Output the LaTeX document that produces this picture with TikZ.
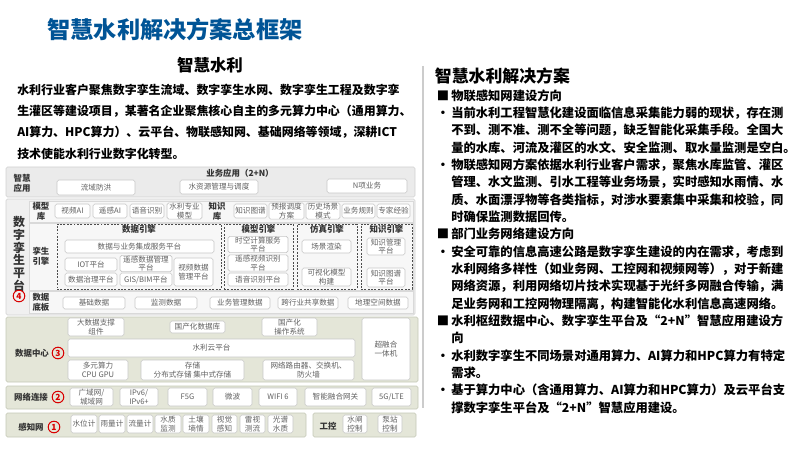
\documentclass[tikz,border=0pt]{standalone}
\usepackage{fontspec}
\setmainfont{Noto Sans CJK SC}
\usetikzlibrary{positioning}
\definecolor{titleblue}{RGB}{0,84,150}
\definecolor{rowgreen}{RGB}{228,230,216}
\definecolor{rowline}{RGB}{196,200,182}
\newcommand\lmark[1]{\makebox[0pt][r]{#1\hspace{1.5pt}}}

\begin{document}
\begin{tikzpicture}[x=0.25mm,y=-0.25mm,
      sz/.style 2 args={minimum width=#1*0.25mm,minimum height=#2*0.25mm},
      box/.style={draw=black!22,fill=white,rounded corners=1.2pt,inner sep=0.2pt,
                  align=center,text=black!62,font=\fontsize{5.4}{6.1}\selectfont},
      lbl/.style={align=center,text=black!80,inner sep=0pt,
                  font=\bfseries\fontsize{6}{7}\selectfont},
      eng/.style={draw=black!70,dash pattern=on 1.4pt off 1pt,line width=0.5pt,inner sep=0pt},
      num/.style={circle,draw=red!85!black,line width=0.7pt,text=red!85!black,inner sep=0pt,
                  minimum size=2.9mm,font=\bfseries\fontsize{6}{6}\selectfont},
      grayrow/.style={draw=black!18,fill=black!8,rounded corners=1pt},
      subrow/.style={draw=black!15,fill=black!3},
      greenrow/.style={draw=rowline,fill=rowgreen,rounded corners=1pt},
      para/.style={align=left,inner sep=0pt,anchor=north west}]
    \useasboundingbox (0,0) rectangle (800,450);
    \node[font=\bfseries\fontsize{16.5}{18}\selectfont,text=titleblue] (title) at (175,30) {智慧水利解决方案总框架};
    \node[font=\bfseries\fontsize{11.7}{13}\selectfont] (sub) at (210,65) {智慧水利};
    \node[para,font=\bfseries\fontsize{8.5}{15.2}\selectfont] (intro) at (17,83.5) {%
      水利行业客户聚焦数字孪生流域、数字孪生水网、数字孪生工程及数字孪\\
      生灌区等建设项目，某著名企业聚焦核心自主的多元算力中心（通用算力、\\
      AI算力、HPC算力）、云平台、物联感知网、基础网络等领域，深耕ICT\\
      技术使能水利行业数字化转型。};

    \draw[black!20,line width=1.5pt] (423,66) -- (423,408);
    \node[anchor=west,font=\bfseries\fontsize{12}{14}\selectfont] (soltitle) at (430,76) {智慧水利解决方案};
    \node[para,font=\bfseries\fontsize{8.75}{12.32}\selectfont] (sol) at (451,89.3) {%
      \lmark{■}物联感知网建设方向\\
      \lmark{・}当前水利工程智慧化建设面临信息采集能力弱的现状，存在测\\
      不到、测不准、测不全等问题，缺乏智能化采集手段。全国大\\
      量的水库、河流及灌区的水文、安全监测、取水量监测是空白。\\
      \lmark{・}物联感知网方案依据水利行业客户需求，聚焦水库监管、灌区\\
      管理、水文监测、引水工程等业务场景，实时感知水雨情、水\\
      质、水面漂浮物等各类指标，对涉水要素集中采集和校验，同\\
      时确保监测数据回传。\\
      \lmark{■}部门业务网络建设方向\\
      \lmark{・}安全可靠的信息高速公路是数字孪生建设的内在需求，考虑到\\
      水利网络多样性（如业务网、工控网和视频网等），对于新建\\
      网络资源，利用网络切片技术实现基于光纤多网融合传输，满\\
      足业务网和工控网物理隔离，构建智能化水利信息高速网络。\\
      \lmark{■}水利枢纽数据中心、数字孪生平台及“2+N”智慧应用建设方\\
      向\\
      \lmark{・}水利数字孪生不同场景对通用算力、AI算力和HPC算力有特定\\
      需求。\\
      \lmark{・}基于算力中心（含通用算力、AI算力和HPC算力）及云平台支\\
      撑数字孪生平台及“2+N”智慧应用建设。};

    \draw[grayrow] (6,167) rectangle (415,197);
    \node[lbl] (appl) at (22,183) {智慧\\应用};
    \node[lbl] (appt) at (240,173) {业务应用（2+N）};
    \node[box,sz={78}{15}] (flood) at (96,187.5) {流域防洪};
    \node[box,sz={78}{14}] (water) at (219,187) {水资源管理与调度};
    \node[box,sz={80}{14}] (nbiz) at (367,186) {N项业务};

    \draw[grayrow,fill=black!6] (6,199) rectangle (415,315);
    \draw[subrow] (29,201) rectangle (413,222);
    \draw[subrow] (29,223) rectangle (413,290);
    \draw[subrow] (29,291) rectangle (413,313);
    \node[lbl,font=\bfseries\fontsize{8.5}{9}\selectfont] (twin) at (19,254) {数\\字\\孪\\生\\平\\台};
    \node[num] (n4) at (19,296) {4};
    \node[lbl] (mlib) at (41,211) {模型\\库};
    \node[box,sz={35}{14}] (vai) at (72.5,211) {视频AI};
    \node[box,sz={34}{14}] (rai) at (110,211) {遥感AI};
    \node[box,sz={34}{14}] (sai) at (147,211) {语音识别};
    \node[box,sz={35}{16}] (wmod) at (184.5,211) {水利专业\\模型};
    \node[lbl] (klib) at (217,211) {知识\\库};
    \node[box,sz={33}{14}] (kg) at (250.5,211) {知识图谱};
    \node[box,sz={35}{16}] (fcst) at (286.5,211) {预报调度\\方案};
    \node[box,sz={34}{16}] (hist) at (323,211) {历史场景\\模式};
    \node[box,sz={33}{14}] (rule) at (358.5,211) {业务规则};
    \node[box,sz={33}{14}] (exp) at (393.5,211) {专家经验};

    \node[lbl] (eng) at (41,256) {孪生\\引擎};
    \node[eng,sz={164}{65}] (deng) at (139,256.5) {};
    \node[eng,sz={69}{65}] (meng) at (258.5,256.5) {};
    \node[eng,sz={60}{65}] (seng) at (327,256.5) {};
    \node[eng,sz={51}{65}] (keng) at (386.5,256.5) {};
    \node[lbl,below=1.2pt of deng.north] (dengt) {数据引擎};
    \node[lbl,below=1.2pt of meng.north] (mengt) {模型引擎};
    \node[lbl,below=1.2pt of seng.north] (sengt) {仿真引擎};
    \node[lbl,below=1.2pt of keng.north] (kengt) {知识引擎};
    \node[box,sz={149}{13}] (dbs) at (139.5,246.5) {数据与业务集成服务平台};
    \node[box,sz={52}{13}] (iot) at (91,264.5) {IOT平台};
    \node[box,sz={52}{15}] (rsd) at (146,263.5) {遥感数据管理\\平台};
    \node[box,sz={39}{28}] (vid) at (193.5,272) {视频数据\\管理平台};
    \node[box,sz={52}{13}] (gov) at (91,279.5) {数据治理平台};
    \node[box,sz={52}{13}] (gis) at (146,279.5) {GIS/BIM平台};
    \node[box,sz={60}{15}] (stc) at (258,244.5) {时空计算服务\\平台};
    \node[box,sz={60}{16}] (rsv) at (258,263) {遥感视频识别\\平台};
    \node[box,sz={60}{13}] (asr) at (258,279.5) {语音识别平台};
    \node[box,sz={49}{13}] (rend) at (326.5,246.5) {场景渲染};
    \node[box,sz={49}{18}] (vism) at (326.5,277) {可视化模型\\构建};
    \node[box,sz={38}{17}] (kman) at (386,246.5) {知识管理\\平台};
    \node[box,sz={38}{19}] (kgp) at (386,277.5) {知识图谱\\平台};

    \node[lbl] (base) at (41,302) {数据\\底板};
    \node[box,sz={62}{12}] (bd) at (94,303) {基础数据};
    \node[box,sz={62}{12}] (md) at (166,303) {监测数据};
    \node[box,sz={60}{12}] (bmd) at (240,303) {业务管理数据};
    \node[box,sz={60}{12}] (csd) at (308,303) {跨行业共享数据};
    \node[box,sz={60}{12}] (gsd) at (378,303) {地理空间数据};

    \draw[greenrow] (6,317) rectangle (418,382);
    \node[lbl] (dc) at (32,353) {数据中心};
    \node[num] (n3) at (58,353) {3};
    \node[box,sz={56}{18}] (bigd) at (96,327) {大数据支撑\\组件};
    \node[box,sz={55}{12}] (ddb) at (197.5,327) {国产化数据库};
    \node[box,sz={55}{18}] (dos) at (289.5,327) {国产化\\操作系统};
    \node[box,sz={287}{18}] (cloud) at (211.5,348) {水利云平台};
    \node[box,sz={60}{20}] (cpu) at (98,370) {多元算力\\CPU GPU};
    \node[box,sz={103}{20}] (stor) at (192.5,370) {存储\\分布式存储 集中式存储};
    \node[box,sz={91}{20}] (net) at (308.5,370) {网络路由器、交换机、\\防火墙};
    \node[box,sz={48}{62}] (hci) at (386,349) {超融合\\一体机};

    \draw[greenrow] (6,386) rectangle (418,409);
    \node[lbl] (link) at (31,397) {网络连接};
    \node[num] (n2) at (58,397) {2};
    \node[box,sz={43}{18}] (wan) at (91.5,397) {广域网/\\城域网};
    \node[box,sz={38}{18}] (ipv6) at (139,397) {IPv6/\\IPv6+};
    \node[box,sz={39}{18}] (f5g) at (187.5,397) {F5G};
    \node[box,sz={39}{18}] (mw) at (232.5,397) {微波};
    \node[box,sz={38}{18}] (wifi) at (278,397) {WIFI 6};
    \node[box,sz={61}{18}] (gw) at (335.5,397) {智能融合网关};
    \node[box,sz={39}{18}] (lte) at (391.5,397) {5G/LTE};

    \draw[greenrow] (6,413) rectangle (306,437);
    \draw[greenrow] (313,413) rectangle (416,437);
    \node[lbl] (sense) at (31,427) {感知网};
    \node[num] (n1) at (54,427) {1};
    \node[box,sz={26}{18}] (lvl) at (84,424) {水位计};
    \node[box,sz={26}{18}] (rain) at (112,424) {雨量计};
    \node[box,sz={26}{18}] (flow) at (140,424) {流量计};
    \node[box,sz={26}{18}] (qual) at (168,424) {水质\\监测};
    \node[box,sz={26}{18}] (soil) at (196,424) {土壤\\墒情};
    \node[box,sz={25}{18}] (vis) at (224.5,424) {视觉\\感知};
    \node[box,sz={25}{18}] (radar) at (252.5,424) {雷视\\测流};
    \node[box,sz={25}{18}] (spec) at (280.5,424) {光谱\\水质};
    \node[lbl] (ctrl) at (328,426) {工控};
    \node[box,sz={24}{18}] (gate) at (355,424) {水闸\\控制};
    \node[box,sz={24}{18}] (pump) at (390,424) {泵站\\控制};
  \end{tikzpicture}
\end{document}
